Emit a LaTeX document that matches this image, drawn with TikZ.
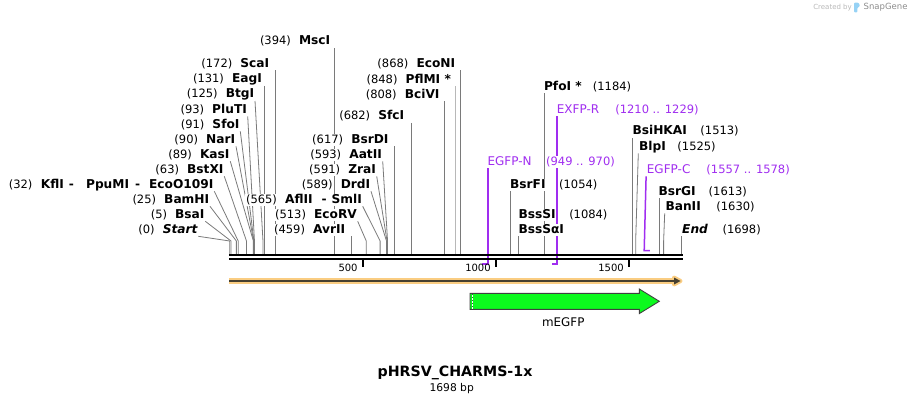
\documentclass[tikz,border=0pt]{standalone}
\usepackage{fontspec}
\setmainfont{DejaVu Sans}[BoldFont={DejaVu Sans Bold},ItalicFont={DejaVu Sans Oblique},BoldItalicFont={DejaVu Sans Bold Oblique}]
\usepackage{tikz}
\usetikzlibrary{calc,positioning,backgrounds}

\definecolor{cutgray}{RGB}{122,122,122}
\definecolor{primer}{RGB}{160,45,240}
\definecolor{featorange}{RGB}{250,205,130}
\definecolor{featline}{RGB}{70,64,48}
\definecolor{egfpgreen}{RGB}{12,250,30}
\definecolor{logoblue}{RGB}{150,210,245}

\begin{document}
\begin{tikzpicture}[x=1pt,y=-1pt,
    lbl/.style={fill=white,inner sep=0.6pt,text height=8.5pt,text depth=2.5pt},
    enz/.style={lbl,font=\fontsize{12.2}{14}\selectfont\bfseries},
    lenz/.style={enz,anchor=east},
    renz/.style={enz,anchor=west},
    num/.style={lbl,font=\fontsize{11.5}{13}\selectfont},
    prm/.style={lbl,anchor=west,text=primer,font=\fontsize{12}{14}\selectfont},
    prmnum/.style={num,text=primer},
    cut/.style={draw=cutgray,line width=0.8pt},
    prmline/.style={draw=primer,line width=1.5pt}]

\useasboundingbox (0,0) rectangle (912,404);

% cut sites along the sequence, 0 .. 1698 bp
\foreach \n/\p in {Start/0,BsaI/5,BamHI/25,kfl/32,BstXI/63,KasI/89,NarI/90,SfoI/91,PluTI/93,BtgI/125,EagI/131,ScaI/172,MscI/394,AvrII/459,EcoRV/513,AflII/565,DrdI/589,ZraI/591,AatII/593,BsrDI/617,SfcI/682,BciVI/808,PflMI/848,EcoNI/868,BsrFI/1054,BssSI/1084,PfoI/1184,BsiHKAI/1513,BlpI/1525,BsrGI/1613,BanII/1630,End/1698}{
  \coordinate (s\n) at ({229.7+\p*0.2662},254);
  \coordinate (k\n) at ({229.7+\p*0.2662},241);
}

% primer ends
\coordinate (pNa) at (482.3,264);
\coordinate (pNb) at (487.9,264);
\coordinate (pRa) at (551.8,264);
\coordinate (pRb) at (556.9,264);
\coordinate (pCa) at (644.2,250.5);
\coordinate (pCb) at (649.8,250.5);

% enzymes labelled on the left of their lines
\foreach \n/\x/\y/\p in {MscI/331/42/394,ScaI/270/64/172,EagI/262.7/79.5/131,BtgI/255/94.5/125,PluTI/247.7/110/93,SfoI/240.3/125/91,NarI/236/140/90,KasI/230.3/155/89,BstXI/224.3/170/63,BamHI/210/200/25,BsaI/205.3/215/5,AvrII/346/230/459,EcoRV/357.7/215/513,DrdI/371/185/589,ZraI/376.7/170/591,AatII/382.7/155/593,BsrDI/389.3/140/617,SfcI/405/116.5/682,BciVI/440.3/95/808,EcoNI/456/64/868}{
  \node[lenz] (\n) at (\x,\y) {\n};
  \node[num,left=6.5pt of \n] (n\n) {(\p)};
}

\node[lenz] (kfl) at (214.3,185) {KflI\hspace{5pt}-\hspace{12pt}PpuMI\hspace{6pt}-\hspace{9pt}EcoO109I};
\node[num,left=7pt of kfl] (nkfl) {(32)};

\node[lenz] (AflII) at (362.7,200) {AflII\hspace{9pt}-\hspace{5pt}SmlI};
\node[num,left=6.5pt of AflII] (nAflII) {(565)};

\node[lenz] (Start) at (198.3,230) {\itshape Start};
\node[num,left=6.5pt of Start] (nStart) {(0)};

\node[lenz] (PflMI) at (451.7,80) {PflMI *};
\node[num,left=6.5pt of PflMI] (nPflMI) {(848)};

% enzymes labelled on the right of their lines
\foreach \n/\x/\y/\p/\g in {BsiHKAI/631.7/131.5/1513/12pt,BlpI/638.3/147/1525/10pt,BsrFI/509.3/185/1054/12pt,BsrGI/657.7/192/1613/11.5pt,BanII/664.7/207/1630/14pt,BssSI/517.7/215/1084/12pt}{
  \node[renz] (\n) at (\x,\y) {\n};
  \node[num,right=\g of \n] (n\n) {(\p)};
}

\node[renz] (PfoI) at (543.2,87) {PfoI *};
\node[num,right=9.5pt of PfoI] (nPfoI) {(1184)};

\node[renz] (BssSaI) at (517.7,230) {BssSαI};

\node[renz] (End) at (681.4,230) {\itshape End};
\node[num,right=13pt of End] (nEnd) {(1698)};

% primers
\node[prm] (exfpR) at (556.1,110) {EXFP-R};
\node[prmnum,right=14.5pt of exfpR] (nexfpR) {(1210 .. 1229)};

\node[prm] (egfpN) at (486.7,162) {EGFP-N};
\node[prmnum,right=13pt of egfpN] (negfpN) {(949 .. 970)};

\node[prm] (egfpC) at (646.1,170) {EGFP-C};
\node[prmnum,right=14.5pt of egfpC] (negfpC) {(1557 .. 1578)};

\begin{scope}[on background layer]
  % bent lines from the labels down to the sites
  \foreach \n in {Start,BsaI,BamHI,kfl,BstXI,KasI,NarI,SfoI,PluTI,BtgI,EcoRV,AflII,DrdI,ZraI,AatII}
    \draw[cut] (\n.south east) -- (k\n) -- (s\n);

  \foreach \n in {BlpI,BanII}
    \draw[cut] (\n.south west) -- (k\n) -- (s\n);

  % straight lines
  \foreach \n in {MscI,ScaI,EagI,AvrII,BsrDI,SfcI,BciVI,EcoNI,PfoI,BsrFI,BsiHKAI,BsrGI,End}
    \draw[cut] (s\n |- \n.south) -- (s\n);

  \draw[cut] (sBssSI |- BssSaI.south) -- (sBssSI);

  \draw[draw=black!28,line width=1.8pt] (sPflMI |- PflMI.south) -- (sPflMI);

  % primer lines
  \draw[prmline] (pNb |- egfpN.south) -- (pNb) -- (pNa);
  \draw[prmline] (pRb |- exfpR.south) -- (pRb) -- (pRa);
  \draw[prmline] (egfpC.south west) -- (pCa) -- (pCb);
\end{scope}

% sequence
\draw[line width=2pt] (229,255.3) -- (683,255.3);
\draw[line width=2pt] (229,259.3) -- (683,259.3);

\foreach \t in {500,1000,1500}{
  \draw[line width=1.6pt] ({229.7+\t*0.2662},260) -- ++(0,7) coordinate (t\t);
  \node[anchor=east,inner sep=0pt,font=\fontsize{10}{12}\selectfont] (l\t) at ({224.7+\t*0.2662},268) {\t};
}

% feature over the whole sequence
\draw[featorange,line width=6.5pt] (229,281) -- (676,281);
\filldraw[featorange,line width=4pt,line join=round] (674,277.5) -- (680.5,281) -- (674,284.5) -- cycle;
\draw[featline,line width=2.4pt] (229,281) -- (675,281);
\fill[featline] (674,277.5) -- (680.5,281) -- (674,284.5) -- cycle;

% mEGFP
\filldraw[fill=egfpgreen,draw=black!75,line width=0.9pt] (470,293.3) -- (639.3,293.3) -- (639.3,289)
    -- (659.3,301.3) -- (639.3,313.6) -- (639.3,309.3) -- (470,309.3) -- cycle;
\draw[white,line width=1pt] (472.2,294) -- (472.2,308.6);
\draw[black!70,dotted,line width=1pt] (472.2,294) -- (472.2,308.6);

\node[font=\fontsize{11.9}{14}\selectfont] (megfp) at (563.3,322) {mEGFP};

% name and size
\node[font=\fontsize{14.2}{16}\selectfont\bfseries] (title) at (455,373) {pHRSV\_CHARMS-1x};
\node[font=\fontsize{10.7}{12}\selectfont] (size) at (451.7,388.5) {1698 bp};

% credit
\node[anchor=east,inner sep=0pt,text=black!28,font=\fontsize{7}{8}\selectfont] (created) at (852,7.8) {Created by};
\fill[logoblue,rounded corners=0.8pt] (854,2.7) -- (858.3,2.7) -- (859.6,4.3) -- (859.6,6.4)
    -- (857.3,8) -- (857.3,12.3) -- (854,12.3) -- cycle;
\node[anchor=west,inner sep=0pt,text=black!45,font=\fontsize{8.5}{10}\selectfont] (snapgene) at (863.5,7.5) {SnapGene};

\end{tikzpicture}
\end{document}
